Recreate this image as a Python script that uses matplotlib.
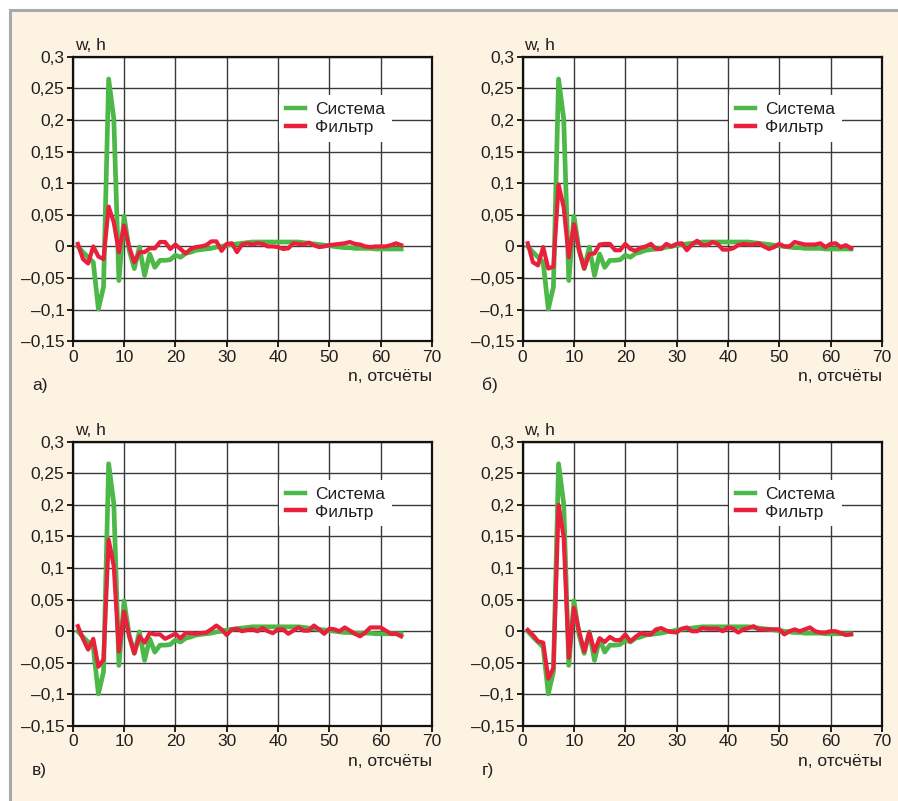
import matplotlib
matplotlib.use('Agg')
import matplotlib.pyplot as plt
from matplotlib.patches import Rectangle
from matplotlib.ticker import FuncFormatter
import numpy as np
plt.rcParams['font.family'] = ['Liberation Sans Narrow', 'Liberation Sans', 'DejaVu Sans']

n = np.arange(1, 65)

# система (одна и та же на всех четырёх графиках)
sistema = [0.0, -0.009, -0.017, -0.025, -0.099, -0.064, 0.265, 0.202, -0.054, 0.048,
           -0.006, -0.035, -0.001, -0.046, -0.012, -0.033, -0.022, -0.022, -0.021, -0.014,
           -0.017, -0.011, -0.009, -0.006, -0.005, -0.004, -0.003, -0.001, 0.0, 0.002,
           0.003, 0.004, 0.005, 0.006, 0.007, 0.007, 0.007, 0.007, 0.007, 0.007,
           0.007, 0.007, 0.007, 0.007, 0.006, 0.005, 0.004, 0.003, 0.002, 0.001,
           0.0, -0.001, -0.002, -0.002, -0.003, -0.003, -0.003, -0.003, -0.004, -0.004,
           -0.004, -0.004, -0.004, -0.004]

# фильтр а)
filtr_a = [0.004, -0.020, -0.027, 0.0, -0.016, -0.020, 0.063, 0.038, -0.009, 0.033,
           -0.001, -0.025, -0.009, -0.009, -0.003, -0.003, 0.007, 0.007, -0.004, 0.003,
           -0.004, -0.011, -0.004, -0.001, 0.0, 0.002, 0.008, 0.008, -0.007, 0.004,
           0.005, -0.009, 0.003, 0.005, 0.003, 0.005, 0.004, 0.0, 0.0, -0.001,
           -0.004, -0.003, 0.005, 0.004, 0.003, 0.006, 0.002, -0.001, 0.0, 0.002,
           0.003, 0.004, 0.005, 0.007, 0.004, 0.003, 0.0, -0.001, 0.0, 0.0,
           0.0, 0.002, 0.005, 0.002]

# фильтр б)
filtr_b = [0.005, -0.025, -0.030, -0.001, -0.035, -0.032, 0.098, 0.062, -0.017, 0.035,
           -0.006, -0.035, -0.012, -0.011, 0.003, 0.004, 0.004, -0.006, -0.006, 0.004,
           -0.004, -0.007, -0.002, 0.0, 0.004, -0.004, -0.004, 0.004, 0.0, 0.004,
           0.005, -0.006, 0.003, 0.009, 0.002, 0.002, 0.007, 0.004, -0.005, -0.005,
           -0.003, 0.002, 0.004, 0.003, 0.003, 0.005, 0.0, -0.004, -0.001, 0.004,
           0.0, 0.0, 0.007, 0.005, 0.003, 0.003, 0.003, 0.005, -0.001, 0.004,
           0.005, -0.001, 0.002, -0.003]

# фильтр в)
filtr_v = [0.008, -0.012, -0.029, -0.012, -0.056, -0.045, 0.145, 0.103, -0.032, 0.031,
           -0.008, -0.035, -0.008, -0.018, -0.003, -0.005, -0.005, -0.012, -0.008, -0.004,
           -0.011, -0.003, -0.003, -0.004, -0.003, -0.002, 0.003, 0.009, 0.003, -0.006,
           0.003, 0.004, 0.0, 0.002, 0.003, 0.0, 0.005, 0.0, -0.003, 0.003,
           0.003, -0.004, 0.001, 0.006, 0.001, 0.001, 0.009, 0.003, -0.004, 0.004,
           0.003, 0.0, 0.006, 0.001, -0.004, -0.008, -0.002, 0.006, 0.006, 0.006,
           0.001, -0.004, -0.004, -0.008]

# фильтр г)
filtr_g = [0.002, -0.006, -0.016, -0.018, -0.075, -0.058, 0.200, 0.149, -0.042, 0.037,
           0.0, -0.032, -0.002, -0.032, -0.011, -0.017, -0.009, -0.014, -0.014, -0.005,
           -0.016, -0.009, -0.003, -0.005, -0.005, 0.003, 0.005, 0.001, -0.001, -0.002,
           0.004, 0.006, 0.0, 0.0, 0.005, 0.004, 0.004, 0.004, 0.0, 0.006,
           0.004, -0.002, 0.003, 0.005, 0.008, 0.003, 0.003, 0.003, 0.003, 0.003,
           -0.005, 0.0, 0.003, 0.0, 0.003, 0.006, 0.0, -0.002, -0.002, 0.0,
           0.0, -0.003, -0.006, -0.005]

filtry = [filtr_a, filtr_b, filtr_v, filtr_g]
bukvy = ['а)', 'б)', 'в)', 'г)']
xt = [0, 10, 20, 30, 40, 50, 60, 70]
yt = [-0.15, -0.1, -0.05, 0, 0.05, 0.1, 0.15, 0.2, 0.25, 0.3]

zel = '#4cb848'
kras = '#e8203c'
txt = '#231f20'


def fmt(v, pos):
    s = ('%g' % round(v, 3)).replace('.', ',')
    return s.replace('-', '–')


fig = plt.figure(figsize=(8.98, 8.01), dpi=100, facecolor='white')
# кремовая подложка с серой рамкой
fig.patches.append(Rectangle((0.0106, -0.05), 1.1, 1.038, transform=fig.transFigure,
                             facecolor='#fdf3e2', edgecolor='#a7a9ac', linewidth=2.2, zorder=-5))

pos = [(0.081, 0.574), (0.582, 0.574), (0.081, 0.0936), (0.582, 0.0936)]

for i in range(4):
    ax = fig.add_axes([pos[i][0], pos[i][1], 0.400, 0.355])
    ax.set_facecolor('white')
    ax.plot(n, sistema, color=zel, lw=3.4, label='Система', solid_joinstyle='round', zorder=3)
    ax.plot(n, filtry[i], color=kras, lw=3.0, label='Фильтр', solid_joinstyle='round', zorder=4)
    ax.set_xlim(0, 70)
    ax.set_ylim(-0.15, 0.3)
    ax.set_xticks(xt)
    ax.set_yticks(yt)
    ax.yaxis.set_major_formatter(FuncFormatter(fmt))
    ax.grid(True, color='#3a3a3a', lw=1.0)
    ax.set_axisbelow(True)
    for sp in ax.spines.values():
        sp.set_linewidth(1.6)
        sp.set_color('#111111')
    ax.tick_params(direction='out', length=4, width=1.4, labelsize=12.5, colors=txt, pad=2)
    leg = ax.legend(loc='center left', bbox_to_anchor=(0.574, 0.784), borderaxespad=0,
                    fontsize=12.5, handlelength=1.1, handletextpad=0.6, labelspacing=0.15,
                    borderpad=0.4, frameon=True, fancybox=False, framealpha=1)
    leg.get_frame().set_facecolor('white')
    leg.get_frame().set_edgecolor('none')
    for t in leg.get_texts():
        t.set_color(txt)
    for l in leg.get_lines():
        l.set_linewidth(3.2)
    ax.text(0.005, 1.012, 'w, h', transform=ax.transAxes, ha='left', va='bottom',
            fontsize=12.5, color=txt)
    ax.text(1.0, -0.123, 'n, отсчёты', transform=ax.transAxes, ha='right', va='center',
            fontsize=12.5, color=txt)
    ax.text(-0.113, -0.155, bukvy[i], transform=ax.transAxes, ha='left', va='center',
            fontsize=12.5, color=txt)

plt.savefig('out.png', dpi=100, facecolor=fig.get_facecolor())
